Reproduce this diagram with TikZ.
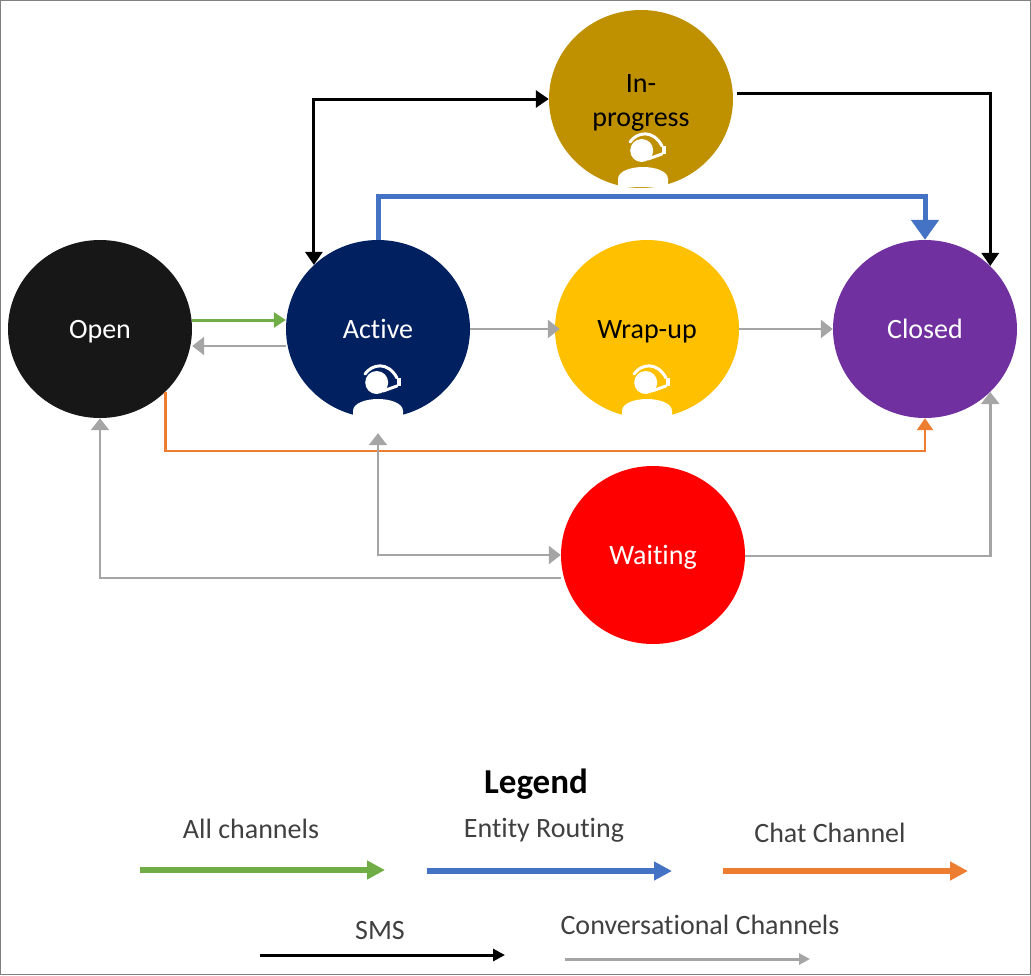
\documentclass[tikz,border=0pt]{standalone}
\usepackage{fontspec}
\setmainfont{Carlito}[Ligatures=NoCommon]
\usepackage{tikz}
\usetikzlibrary{arrows.meta,calc,shapes.geometric}

\definecolor{openclr}{HTML}{171717}
\definecolor{activeclr}{HTML}{002060}
\definecolor{wrapclr}{HTML}{FFC000}
\definecolor{closedclr}{HTML}{7030A0}
\definecolor{progressclr}{HTML}{BF9000}
\definecolor{allclr}{HTML}{70AD47}
\definecolor{entityclr}{HTML}{4472C4}
\definecolor{chatclr}{HTML}{ED7D31}
\definecolor{convclr}{HTML}{A5A5A5}
\definecolor{labelclr}{HTML}{404040}

\newcommand{\txtstrut}{\rule[-6pt]{0pt}{31pt}}

\tikzset{
    state/.style={ellipse, minimum width=184pt, minimum height=178pt, inner sep=0pt, align=center,
        font=\fontsize{28}{34}\selectfont},
    legendtext/.style={text=labelclr, font=\fontsize{28}{32}\selectfont},
    allline/.style={allclr, line width=3pt, -{Triangle[length=12pt,width=15pt]}},
    entityline/.style={entityclr, line width=5pt, -{Triangle[length=20pt,width=27pt]}},
    chatline/.style={chatclr, line width=2.5pt, -{Triangle[length=12pt,width=16pt]}},
    smsline/.style={black, line width=3pt, -{Triangle[length=13pt,width=17pt]}},
    convline/.style={convclr, line width=2.5pt, -{Triangle[length=12pt,width=18pt]}},
    agenticon/.pic={
        \fill[white] (-25,90) -- (-25,82) .. controls (-25,74) and (-12,70) .. (0,70)
            .. controls (12,70) and (25,74) .. (25,82) -- (25,90) -- cycle;
        \fill[white] (-1.3,53.5) circle (11.5);
        \draw[white, line width=3pt, line cap=round]
            (-13,45) .. controls (-6,35) and (10,32) .. (19,49);
        \draw[white, line width=4pt] (20.5,49) -- (20.5,57);
        \draw[white, line width=3pt, line cap=round] (19,57) -- (5,62);
    }
}

\begin{document}
\begin{tikzpicture}[x=1pt, y=-1pt]
    \useasboundingbox (0,0) rectangle (1031,975);

    % Frame
    \draw[gray, line width=1pt] (0.5,0.5) rectangle (1030.5,974.5);

    % States
    \foreach \name/\x/\y/\clr/\txtclr/\txt in {
        open/100/329/openclr/white/\txtstrut Open,
        active/378/329/activeclr/white/\txtstrut Active,
        wrapup/647/329/wrapclr/black/\txtstrut Wrap-up,
        closed/925/329/closedclr/white/\txtstrut Closed,
        waiting/653/555/red/white/\txtstrut Waiting,
        progress/641/99/progressclr/black/{\txtstrut In-\\progress}}
    {
        \node[state, fill=\clr, text=\txtclr] (\name) at (\x,\y) {\txt};
    }

    % Agent icons
    \pic at (active.center) {agenticon};
    \pic at (wrapup.center) {agenticon};
    \pic at ($(progress.center)+(2,-2)$) {agenticon};

    % All channels
    \draw[allline] ($(open.east)+(0,-9)$) -- ($(active.west)+(0,-9)$);

    % Entity routing
    \draw[entityline] (active.north) -- ++(0,-43) -| (closed.north);

    % Chat channel
    \draw[chatline] (open.-44) |- ($(closed.south)+(0,33)$) -- (closed.south);

    % SMS
    \draw[smsline, {Triangle[length=13pt,width=17pt]}-{Triangle[length=13pt,width=17pt]}]
        (active.135.5) |- (progress.west);
    \draw[smsline] ($(progress.east)+(4,-6)$) -| (closed.44);

    % Conversational channels
    \draw[convline] ($(active.west)+(0,17)$) -- ($(open.east)+(0,17)$);
    \draw[convline] (active.east) -- ($(wrapup.west)+(5,0)$);
    \draw[convline] (wrapup.east) -- (closed.west);
    \draw[convline, {Triangle[length=12pt,width=18pt]}-{Triangle[length=12pt,width=18pt]}]
        ($(active.south)+(0,15)$) |- (waiting.west);
    \draw[convline] ($(waiting.west)+(0,23)$) -| (open.south);
    \draw[convline] ($(waiting.east)+(0,1)$) -| (closed.-44);

    % Legend
    \node[font=\fontsize{35}{40}\selectfont\bfseries] (legend) at (536,784) {Legend};
    \foreach \name/\x/\y/\txt in {
        all/251/829/All channels,
        entity/544/830/Entity Routing,
        chat/830/833/Chat Channel,
        sms/380/930/SMS,
        conv/700/925/Conversational Channels}
    {
        \node[legendtext] (\name label) at (\x,\y) {\txt};
    }
    \foreach \name/\xa/\xb/\y/\sty/\wd/\tip in {
        all/140/385/870/allline/6/18,
        entity/427/672/871/entityline/6/18,
        chat/723/968/871/chatline/6/18,
        sms/260/505/955/smsline/3/12,
        conv/565/810/959/convline/3/11}
    {
        \coordinate (\name from) at (\xa,\y);
        \coordinate (\name to) at (\xb,\y);
        \draw[\sty, line width=\wd pt, -{Triangle[length=\tip pt,width=\tip pt]}] (\name from) -- (\name to);
    }
\end{tikzpicture}
\end{document}
